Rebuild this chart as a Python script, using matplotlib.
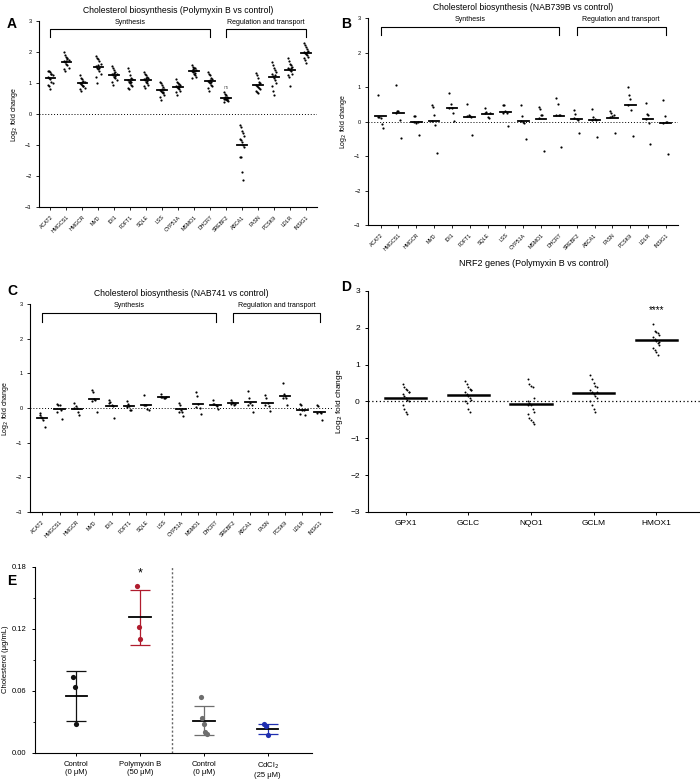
import numpy as np
import matplotlib.pyplot as plt

plt.rcParams['font.family'] = 'Liberation Sans'

genes = ['ACAT2', 'HMGCS1', 'HMGCR', 'MVD', 'IDI1', 'FDFT1', 'SQLE', 'LSS', 'CYP51A',
         'MSMO1', 'DHCR7', 'SREBF2', 'ABCA1', 'FASN', 'PCSK9', 'LDLR', 'INSIG1']

# panel A: polymyxin B
vals_a = [
    [1.4, 1.38, 1.35, 1.3, 1.25, 1.2, 1.18, 1.12, 1.05, 1.0, 0.95, 0.9, 0.82, 1.3],
    [2.0, 1.92, 1.85, 1.8, 1.75, 1.7, 1.68, 1.62, 1.58, 1.5, 1.45, 1.38, 1.72, 1.78],
    [1.25, 1.18, 1.12, 1.08, 1.02, 1.0, 0.98, 0.95, 0.9, 0.85, 0.8, 0.75, 1.05, 0.92],
    [1.88, 1.82, 1.78, 1.7, 1.62, 1.55, 1.5, 1.45, 1.4, 1.3, 1.2, 1.0, 1.6, 1.5],
    [1.55, 1.48, 1.42, 1.35, 1.3, 1.28, 1.25, 1.2, 1.15, 1.1, 1.05, 0.95, 1.32, 1.22],
    [1.48, 1.38, 1.25, 1.18, 1.12, 1.1, 1.05, 1.0, 0.95, 0.9, 0.85, 0.82, 1.08, 1.02],
    [1.35, 1.3, 1.25, 1.2, 1.15, 1.12, 1.1, 1.05, 1.0, 0.95, 0.9, 0.85, 1.18, 1.08],
    [1.05, 1.0, 0.95, 0.88, 0.82, 0.78, 0.75, 0.72, 0.68, 0.6, 0.55, 0.45, 0.8, 0.7],
    [1.12, 1.05, 1.0, 0.98, 0.95, 0.9, 0.88, 0.85, 0.8, 0.75, 0.7, 0.62, 0.92, 0.86],
    [1.58, 1.52, 1.5, 1.48, 1.42, 1.38, 1.35, 1.3, 1.25, 1.2, 1.15, 1.45, 1.4, 1.32],
    [1.35, 1.3, 1.25, 1.18, 1.12, 1.08, 1.05, 1.0, 0.95, 0.9, 0.85, 0.75, 1.1, 1.02],
    [0.72, 0.65, 0.6, 0.55, 0.52, 0.5, 0.5, 0.48, 0.45, 0.42, 0.4, 0.55, 0.5, 0.45],
    [-0.35, -0.42, -0.55, -0.6, -0.7, -0.8, -0.85, -0.9, -1.0, -1.05, -1.4, -1.4, -1.88, -2.12],
    [1.32, 1.25, 1.15, 1.05, 1.0, 0.95, 0.92, 0.88, 0.85, 0.8, 0.75, 0.7, 0.68, 0.98],
    [1.68, 1.6, 1.5, 1.42, 1.35, 1.3, 1.22, 1.15, 1.1, 1.0, 0.9, 0.75, 0.6, 1.25],
    [1.82, 1.7, 1.62, 1.58, 1.52, 1.48, 1.45, 1.42, 1.38, 1.3, 1.25, 1.2, 0.9, 1.5],
    [2.28, 2.22, 2.15, 2.1, 2.05, 2.0, 1.98, 1.95, 1.9, 1.85, 1.8, 1.75, 1.65, 2.0],
]

# panel B: NAB739B
vals_b = [
    [0.78, 0.12, 0.1, -0.08, -0.18, 0.14],
    [1.05, 0.3, 0.3, 0.05, -0.48, 0.25],
    [0.16, 0.16, -0.05, -0.02, -0.38, 0.0],
    [0.48, 0.42, 0.2, -0.1, -0.9, 0.02],
    [0.83, 0.52, 0.38, 0.25, 0.02, 0.38],
    [0.5, 0.2, 0.15, 0.12, -0.38, 0.15],
    [0.38, 0.28, 0.12, 0.1, 0.25, 0.25],
    [0.48, 0.48, 0.3, 0.25, -0.12, 0.25],
    [0.47, 0.15, -0.02, -0.05, -0.52, 0.02],
    [0.43, 0.35, 0.2, 0.2, -0.85, 0.1],
    [0.68, 0.5, 0.2, 0.18, -0.73, 0.2],
    [0.33, 0.22, 0.08, 0.05, -0.32, 0.1],
    [0.37, 0.13, 0.08, 0.05, -0.45, 0.05],
    [0.3, 0.25, 0.15, 0.2, -0.33, 0.12],
    [1.0, 0.77, 0.65, 0.33, -0.43, 0.47],
    [0.55, 0.23, 0.2, -0.03, -0.65, 0.08],
    [0.62, 0.17, 0.0, -0.02, -0.93, -0.03],
]

# panel C: NAB741
vals_c = [
    [-0.15, -0.25, -0.3, -0.35, -0.55, -0.2],
    [0.12, 0.08, 0.1, -0.05, -0.33, -0.12],
    [0.15, 0.05, 0.0, -0.1, -0.2, 0.0],
    [0.52, 0.45, 0.25, 0.22, -0.12, 0.2],
    [0.22, 0.18, 0.08, 0.05, -0.3, 0.15],
    [0.2, 0.12, 0.05, -0.05, -0.05, 0.03],
    [0.38, 0.1, 0.1, -0.02, -0.05, 0.09],
    [0.4, 0.32, 0.3, 0.28, 0.32, 0.32],
    [0.15, 0.1, -0.05, -0.1, -0.22, -0.1],
    [0.45, 0.36, 0.12, 0.0, -0.18, 0.02],
    [0.22, 0.12, 0.1, 0.05, -0.02, 0.13],
    [0.22, 0.18, 0.15, 0.1, 0.12, 0.13],
    [0.48, 0.3, 0.15, 0.1, -0.12, 0.09],
    [0.38, 0.3, 0.15, 0.05, -0.08, 0.1],
    [0.72, 0.4, 0.35, 0.3, 0.1, 0.3],
    [0.12, 0.1, -0.05, -0.05, -0.2, -0.18],
    [0.1, 0.05, -0.1, -0.15, -0.35, -0.15],
]

# panel D: NRF2 genes
nrf2_genes = ['GPX1', 'GCLC', 'NQO1', 'GCLM', 'HMOX1']
vals_d = [
    [0.48, 0.4, 0.35, 0.3, 0.25, 0.2, 0.15, 0.1, 0.05, 0.0, -0.1, -0.2, -0.3, -0.35, 0.25],
    [0.55, 0.48, 0.4, 0.35, 0.3, 0.25, 0.2, 0.15, 0.1, 0.05, 0.0, -0.05, -0.2, -0.3, 0.3],
    [0.62, 0.48, 0.42, 0.4, 0.1, 0.0, -0.05, -0.1, -0.2, -0.3, -0.35, -0.45, -0.5, -0.55, -0.6, -0.1],
    [0.72, 0.6, 0.5, 0.42, 0.38, 0.3, 0.25, 0.2, 0.15, 0.1, 0.0, -0.1, -0.2, -0.3, 0.25],
    [2.1, 1.92, 1.88, 1.85, 1.8, 1.75, 1.7, 1.65, 1.58, 1.52, 1.45, 1.4, 1.35, 1.25, 1.6],
]

# panel E: cholesterol
e_labels = ['Control\n(0 μM)', 'Polymyxin B\n(50 μM)', 'Control\n(0 μM)', 'CdCl$_2$\n(25 μM)']
e_vals = [[0.073, 0.064, 0.028], [0.161, 0.122, 0.110],
          [0.054, 0.034, 0.028, 0.020, 0.018], [0.028, 0.026, 0.017]]
e_mean = [0.055, 0.131, 0.031, 0.023]
e_sd = [0.024, 0.027, 0.014, 0.005]
e_colors = ['#111111', '#b01c2e', '#6e6e6e', '#1f2fb0']

fig = plt.figure(figsize=(7, 7.84), dpi=100)


def offsets(n, w):
    return np.array([((i % 5) - 2) * w for i in range(n)])


def gene_panel(ax, vals, title, ns=False):
    for i, v in enumerate(vals):
        v = np.array(v)
        ax.scatter(i + offsets(len(v), 0.07), v, s=2.5, color='black', lw=0, zorder=3)
        ax.plot([i - 0.3, i + 0.3], [v.mean()] * 2, color='black', lw=1.3, zorder=4)
    ax.axhline(0, color='black', ls=(0, (1, 2)), lw=0.7)
    ax.set_xlim(-0.7, len(vals) - 0.3)
    ax.set_ylim(-3, 3)
    ax.set_yticks(range(-3, 4))
    ax.set_xticks(range(len(genes)))
    ax.set_xticklabels(genes, rotation=45, ha='right', rotation_mode='anchor', fontsize=3.8)
    ax.tick_params(axis='y', labelsize=4, length=2, width=0.6)
    ax.tick_params(axis='x', length=2, width=0.6)
    for s in ['top', 'right']:
        ax.spines[s].set_visible(False)
    for s in ['left', 'bottom']:
        ax.spines[s].set_linewidth(0.8)
    ax.set_ylabel('Log$_2$ fold change', fontsize=5)
    ax.set_title(title, fontsize=6.2, pad=6)
    # brackets
    for a, b, lab in [(0, 10, 'Synthesis'), (11, 16, 'Regulation and transport')]:
        ax.plot([a, a, b, b], [2.5, 2.75, 2.75, 2.5], color='black', lw=0.8)
        ax.text((a + b) / 2, 2.85, lab, ha='center', va='bottom', fontsize=5)
    if ns:
        ax.text(11, 0.78, 'ns', ha='center', va='bottom', fontsize=3.5, color='#666666')


ax_a = fig.add_axes([0.056, 0.736, 0.397, 0.237])
gene_panel(ax_a, vals_a, 'Cholesterol biosynthesis (Polymyxin B vs control)', ns=True)
ax_b = fig.add_axes([0.526, 0.713, 0.443, 0.264])
gene_panel(ax_b, vals_b, 'Cholesterol biosynthesis (NAB739B vs control)')
ax_c = fig.add_axes([0.043, 0.347, 0.431, 0.265])
gene_panel(ax_c, vals_c, 'Cholesterol biosynthesis (NAB741 vs control)')

ax_d = fig.add_axes([0.526, 0.347, 0.474, 0.282])
for i, v in enumerate(vals_d):
    v = np.array(v)
    ax_d.scatter(i + offsets(len(v), 0.025), v, s=2, color='black', lw=0, zorder=3)
    ax_d.plot([i - 0.33, i + 0.33], [v.mean()] * 2, color='black', lw=1.8, zorder=4)
ax_d.axhline(0, color='black', ls=(0, (1, 2)), lw=0.9)
ax_d.text(4, 2.35, '****', ha='center', va='bottom', fontsize=7)
ax_d.set_xlim(-0.6, 4.7)
ax_d.set_ylim(-3, 3)
ax_d.set_yticks(range(-3, 4))
ax_d.set_xticks(range(5))
ax_d.set_xticklabels(nrf2_genes, fontsize=6)
ax_d.tick_params(axis='y', labelsize=6, length=2.5, width=0.7)
ax_d.tick_params(axis='x', length=2.5, width=0.7)
for s in ['top', 'right']:
    ax_d.spines[s].set_visible(False)
ax_d.set_ylabel('Log$_2$ fold change', fontsize=6)
ax_d.set_title('NRF2 genes (Polymyxin B vs control)', fontsize=6.5, pad=18)

ax_e = fig.add_axes([0.050, 0.040, 0.396, 0.237])
for i, (v, m, sd, c) in enumerate(zip(e_vals, e_mean, e_sd, e_colors)):
    ax_e.errorbar(i, m, yerr=sd, color=c, capsize=7, lw=0.9, capthick=0.9, zorder=2)
    ax_e.plot([i - 0.17, i + 0.17], [m, m], color='black', lw=1.3, zorder=3)
    ax_e.scatter(i + offsets(len(v), 0.025), v, s=14, color=c, zorder=4, lw=0)
ax_e.text(1, 0.168, '*', ha='center', va='bottom', fontsize=9)
ax_e.axvline(1.5, color='#666666', ls=(0, (1.5, 1.5)), lw=1)
ax_e.set_xlim(-0.65, 3.7)
ax_e.set_ylim(0, 0.18)
ax_e.set_yticks([0, 0.06, 0.12, 0.18])
ax_e.set_yticklabels(['0.00', '0.06', '0.12', '0.18'])
ax_e.set_yticks([0.03, 0.09, 0.15], minor=True)
ax_e.set_xticks(range(4))
ax_e.set_xticklabels(e_labels, fontsize=5.5)
ax_e.tick_params(axis='both', labelsize=5.5, length=2.5, width=0.7)
ax_e.tick_params(axis='y', which='minor', length=1.5)
for s in ['top', 'right']:
    ax_e.spines[s].set_visible(False)
ax_e.set_ylabel('Cholesterol (μg/mL)', fontsize=5.5, labelpad=2)

for x, y, l in [(0.010, 0.978, 'A'), (0.488, 0.978, 'B'), (0.010, 0.638, 'C'),
                (0.488, 0.643, 'D'), (0.010, 0.268, 'E')]:
    fig.text(x, y, l, fontsize=10, fontweight='bold', va='top')

fig.savefig('out.png', dpi=100)
